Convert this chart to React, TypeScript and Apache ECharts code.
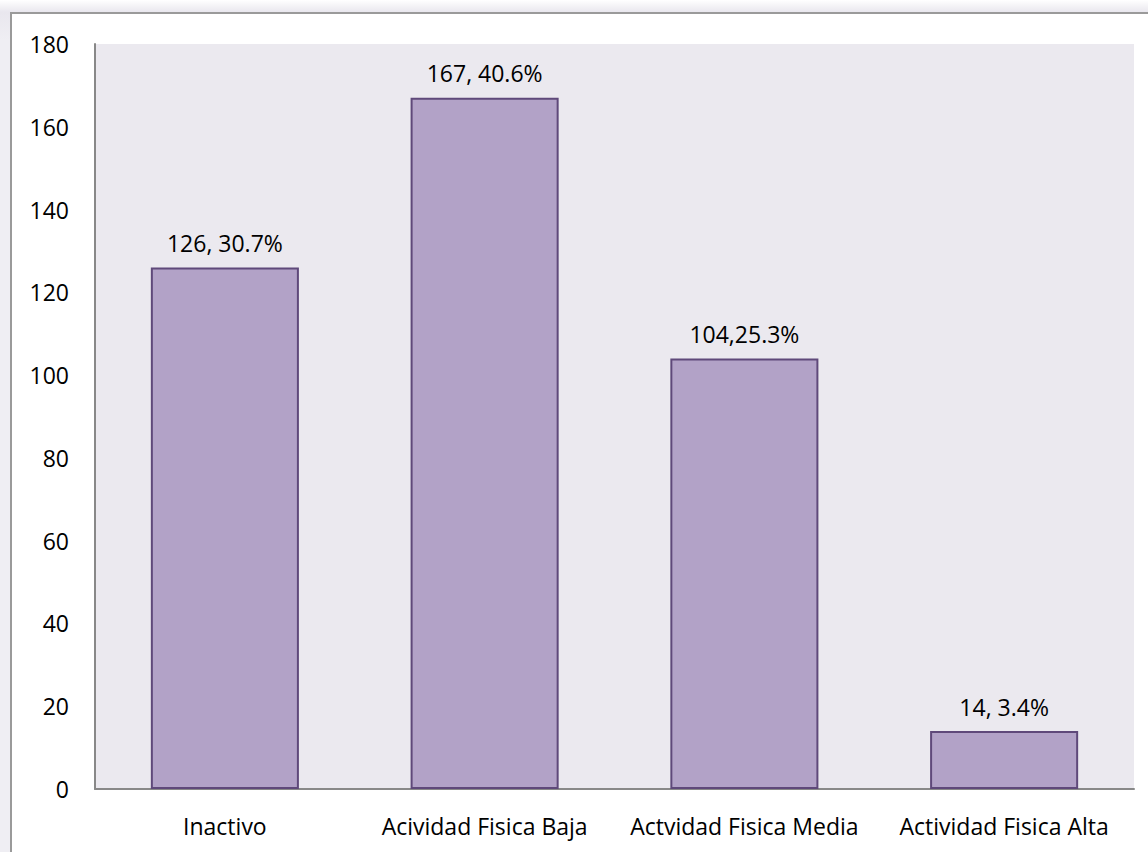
import React, { useEffect, useRef } from "react";
import * as echarts from "echarts";

const categories = [
  "Inactivo",
  "Acividad Fisica Baja",
  "Actvidad Fisica Media",
  "Actividad Fisica Alta",
];
const counts = [126, 167, 104, 14];
const barLabels = ["126, 30.7%", "167, 40.6%", "104,25.3%", "14, 3.4%"];
const yTicks = { min: 0, max: 180, interval: 20 };

const FONT = "'Open Sans', 'Noto Sans', sans-serif";

export default function App() {
  const ref = useRef<HTMLDivElement>(null);

  useEffect(() => {
    if (!ref.current) return;
    const chart = echarts.init(ref.current, undefined, { renderer: "svg" });
    chart.setOption({
      animation: false,
      backgroundColor: "transparent",
      textStyle: { fontFamily: FONT },
      grid: {
        left: 95,
        right: 14,
        top: 44,
        bottom: 63,
        show: true,
        backgroundColor: "#EBE9EF",
        borderWidth: 0,
      },
      xAxis: {
        type: "category",
        data: categories,
        axisLine: { show: true, lineStyle: { color: "#888888", width: 2 } },
        axisTick: { show: false },
        axisLabel: {
          color: "#000",
          fontSize: 23,
          fontFamily: FONT,
          margin: 25,
          interval: 0,
        },
        splitLine: { show: false },
      },
      yAxis: {
        type: "value",
        min: yTicks.min,
        max: yTicks.max,
        interval: yTicks.interval,
        axisLine: { show: true, lineStyle: { color: "#888888", width: 2 } },
        axisTick: { show: false },
        axisLabel: {
          color: "#000",
          fontSize: 23,
          fontFamily: FONT,
          margin: 26,
        },
        splitLine: { show: false },
      },
      series: [
        {
          type: "bar",
          data: counts,
          barWidth: "57%",
          itemStyle: {
            color: "#B2A2C7",
            borderColor: "#5F497A",
            borderWidth: 2,
          },
          label: {
            show: true,
            position: "top",
            distance: 13,
            color: "#000",
            fontSize: 23,
            fontFamily: FONT,
            formatter: (p: any) => barLabels[p.dataIndex],
          },
        },
      ],
    });
    return () => chart.dispose();
  }, []);

  return (
    <div
      style={{
        position: "fixed",
        left: 0,
        top: 0,
        width: 1148,
        height: 852,
        overflow: "hidden",
        background: "linear-gradient(to bottom, #ffffff 0px, #e9e7ee 12px, #efeef3 40px)",
      }}
    >
      <div
        style={{
          position: "absolute",
          left: 10,
          top: 12,
          width: 1200,
          height: 900,
          border: "2px solid #9a9a9a",
          background: "#ffffff",
        }}
      />
      <div
        ref={ref}
        style={{ position: "absolute", left: 0, top: 0, width: 1148, height: 852 }}
      />
    </div>
  );
}
